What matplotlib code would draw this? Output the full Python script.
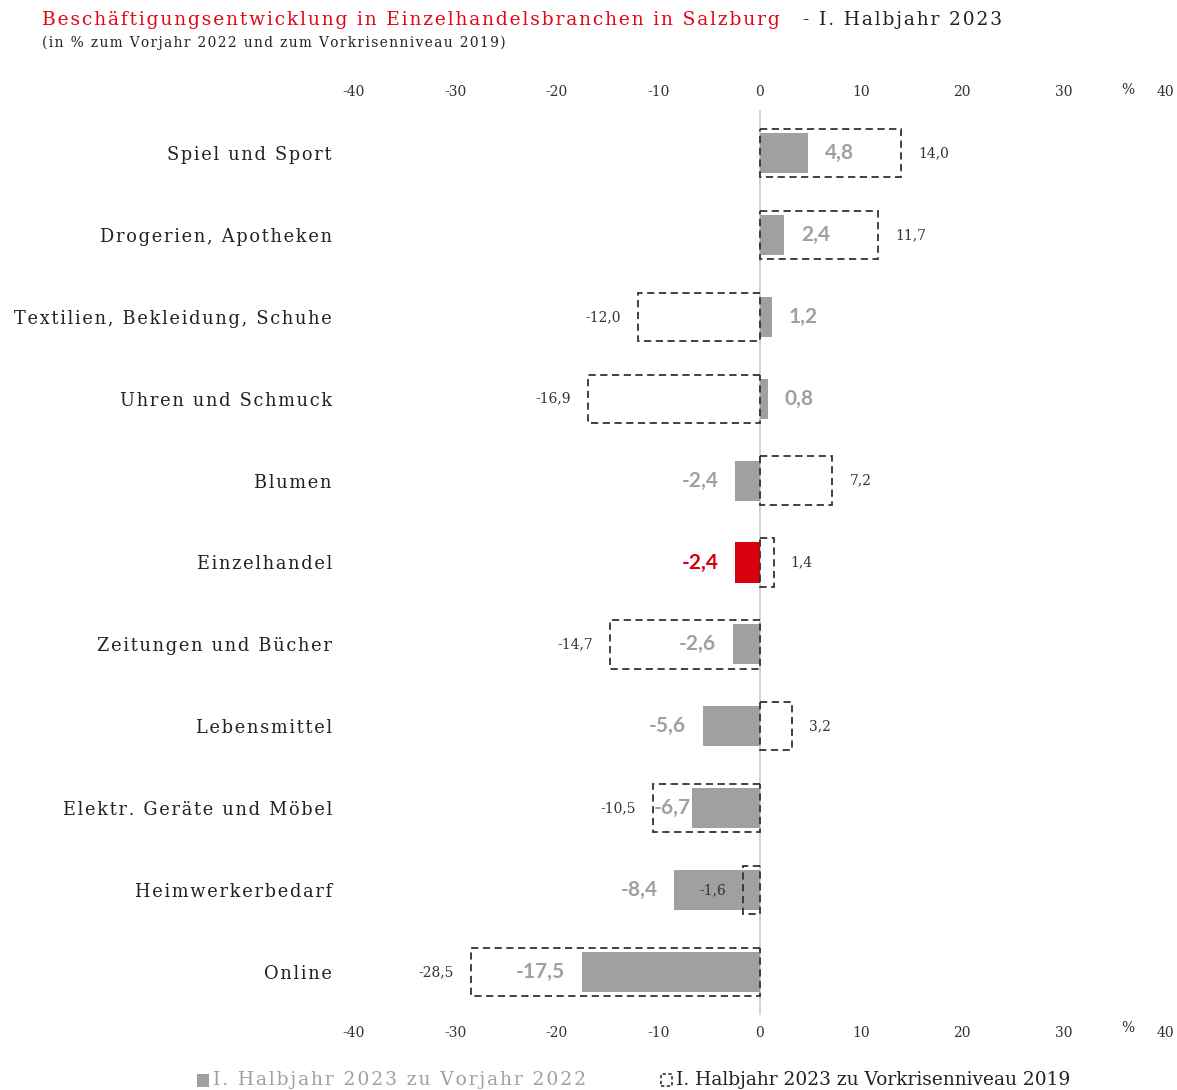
import matplotlib.pyplot as plt
from matplotlib.patches import Rectangle

categories = ["Spiel und Sport", "Drogerien, Apotheken", "Textilien, Bekleidung, Schuhe",
              "Uhren und Schmuck", "Blumen", "Einzelhandel", "Zeitungen und Bücher",
              "Lebensmittel", "Elektr. Geräte und Möbel", "Heimwerkerbedarf", "Online"]
vs_2022 = [4.8, 2.4, 1.2, 0.8, -2.4, -2.4, -2.6, -5.6, -6.7, -8.4, -17.5]
vs_2019 = [14.0, 11.7, -12.0, -16.9, 7.2, 1.4, -14.7, 3.2, -10.5, -1.6, -28.5]
x_ticks = [-40, -30, -20, -10, 0, 10, 20, 30, 40]
highlight = "Einzelhandel"

GREY = "#A0A0A0"
RED = "#D9000D"
DARK = "#333333"
SERIF = "DejaVu Serif"


def fmt(v):
    return f"{v:.1f}".replace(".", ",")


def spaced(s, n=1):
    # fake letter spacing with hair spaces
    return ("\u200a" * n).join(s)


W, H = 1177, 1090
fig = plt.figure(figsize=(W / 100, H / 100), dpi=100)
ax = fig.add_axes([354 / W, 1 - 1015 / H, (1165 - 354) / W, (1015 - 110) / H])

y = list(range(len(categories)))
colors = [RED if c == highlight else GREY for c in categories]

ax.barh(y, vs_2019, height=0.59, facecolor="none", edgecolor=DARK,
        linestyle=(0, (4, 2.5)), linewidth=1.3, zorder=3)
ax.barh(y, vs_2022, height=0.49, color=colors, zorder=2)
ax.axvline(0, color="#D4D4D4", linewidth=1.5, zorder=1)

ax.set_xlim(-40, 40)
ax.set_ylim(len(categories) - 1 + 0.525, -0.525)

# value labels
px = 80 / 811  # data units per pixel
off = 17 * px
for i, (a, b, c) in enumerate(zip(vs_2022, vs_2019, colors)):
    if a >= 0:
        ax.text(a + off, i, fmt(a), ha="left", va="center", fontsize=15,
                fontweight="bold", color=c, family="Lato", zorder=4)
    else:
        o = off
        # squeeze label against the bar when the dashed box edge is close
        if b < a and (a - b) < 60 * px:
            o = 1 * px
        ax.text(a - o, i, fmt(a), ha="right", va="center", fontsize=15,
                fontweight="bold", color=c, family="Lato", zorder=4)
    ha = "left" if b >= 0 else "right"
    ax.text(b + (off if b >= 0 else -off), i, fmt(b), ha=ha, va="center",
            fontsize=10, color=DARK, family=SERIF, zorder=4)

ax.set_yticks(y)
ax.set_yticklabels([spaced(c) for c in categories], family=SERIF, fontsize=12.8,
                   color="#222222")
ax.set_xticks(x_ticks)
ax.set_xticklabels([str(t) for t in x_ticks], family=SERIF, fontsize=10, color=DARK)
ax.tick_params(axis="x", length=0, pad=8, labeltop=True, labelbottom=True)
ax.tick_params(axis="y", length=0, pad=16)
for s in ax.spines.values():
    s.set_visible(False)

fig.text(1128 / W, 1 - 90 / H, "%", ha="center", va="center", family=SERIF,
         fontsize=10, color=DARK)
fig.text(1128 / W, 1 - 1028 / H, "%", ha="center", va="center", family=SERIF,
         fontsize=10, color=DARK)

# title
fig.text(42 / W, 1 - 20 / H, spaced("Beschäftigungsentwicklung in Einzelhandelsbranchen in Salzburg"),
         ha="left", va="center", family=SERIF, fontsize=13.4, color="#E30613")
fig.text(803 / W, 1 - 20 / H, spaced("- I. Halbjahr 2023"), ha="left", va="center",
         family=SERIF, fontsize=13.4, color="#222222")
fig.text(42 / W, 1 - 43 / H, spaced("(in % zum Vorjahr 2022 und zum Vorkrisenniveau 2019)"),
         ha="left", va="center", family=SERIF, fontsize=9.9, color="#222222")

# legend
ly = 1 - 1080 / H
fig.patches.append(Rectangle((197 / W, ly - 7 / H), 12 / W, 13 / H, facecolor=GREY,
                             edgecolor="none", transform=fig.transFigure))
fig.text(213 / W, ly, spaced("I. Halbjahr 2023 zu Vorjahr 2022"), ha="left", va="center",
         family=SERIF, fontsize=13.5, color=GREY)
fig.patches.append(Rectangle((661 / W, ly - 6 / H), 11 / W, 12 / H, facecolor="none",
                             edgecolor=DARK, linestyle=(0, (2, 1.5)), linewidth=1.2,
                             transform=fig.transFigure))
fig.text(676 / W, ly, "I. Halbjahr 2023 zu Vorkrisenniveau 2019", ha="left", va="center",
         family=SERIF, fontsize=13.4, color="#222222")

fig.savefig("out.png", dpi=100)
